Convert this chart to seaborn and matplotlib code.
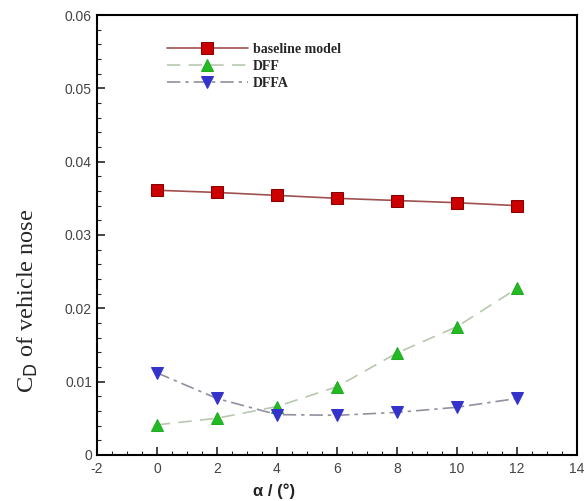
import matplotlib
matplotlib.use("Agg")
import matplotlib.pyplot as plt
import seaborn as sns
import pandas as pd
from matplotlib.ticker import MultipleLocator

alpha = [0, 2, 4, 6, 8, 10, 12]
baseline = [0.0361, 0.0358, 0.0354, 0.0350, 0.0347, 0.0344, 0.0340]
dff = [0.0041, 0.0050, 0.0066, 0.0093, 0.0139, 0.0175, 0.0227]
dffa = [0.0112, 0.0077, 0.0055, 0.0054, 0.0058, 0.0065, 0.0077]
series_names = ["baseline model", "DFF", "DFFA"]

sns.set_style("white")
plt.rcParams["font.family"] = ["Liberation Sans", "DejaVu Sans"]
plt.rcParams["axes.unicode_minus"] = False

fig = plt.figure(figsize=(5.87, 5.01), dpi=100)
ax = fig.add_axes([0.165, 0.092, 0.818, 0.878])

df = pd.DataFrame({"alpha": alpha * 3,
                   "cd": baseline + dff + dffa,
                   "series": [series_names[0]] * 7 + [series_names[1]] * 7 + [series_names[2]] * 7})

styles = {
    "baseline model": dict(color="#a05050", marker="s", mfc="#cc0000", mec="#880000", ls="-", ms=8.5),
    "DFF": dict(color="#b8c8b0", marker="^", mfc="#22bb22", mec="#22aa22", ls=(0, (8, 5)), ms=8.5),
    "DFFA": dict(color="#9090a0", marker="v", mfc="#3333cc", mec="#3333cc", ls=(0, (8, 3, 2, 3)), ms=8.5),
}
for name in series_names:
    st = styles[name]
    sub = df[df["series"] == name]
    sns.lineplot(data=sub, x="alpha", y="cd", ax=ax, color=st["color"], marker=st["marker"],
                 markerfacecolor=st["mfc"], markeredgecolor=st["mec"], markersize=st["ms"],
                 linestyle=st["ls"], linewidth=1.2, label=name, legend=False)

ax.set_xlim(-2, 14)
ax.set_ylim(0, 0.06)
ax.xaxis.set_major_locator(MultipleLocator(2))
ax.xaxis.set_minor_locator(MultipleLocator(0.5))
ax.yaxis.set_minor_locator(MultipleLocator(0.002))
ax.set_yticks([0, 0.01, 0.02, 0.03, 0.04, 0.05, 0.06])
ax.set_yticklabels(["0", "0.01", "0.02", "0.03", "0.04", "0.05", "0.06"])
ax.tick_params(axis="both", which="major", direction="in", length=6, width=1.2,
               labelsize=10, labelcolor="#444444", top=False, right=False, left=True, bottom=True)
ax.tick_params(axis="x", which="major", pad=5)
ax.tick_params(axis="both", which="minor", direction="in", length=3, width=0.8,
               top=False, right=False, left=True, bottom=True)
for sp in ax.spines.values():
    sp.set_linewidth(1.5)
    sp.set_color("black")

ax.set_xlabel("α / (°)", fontsize=12, fontweight="bold", color="#222222")
ax.xaxis.set_label_coords(0.37, -0.065)
ax.set_ylabel(r"C$_\mathrm{D}$ of vehicle nose", fontsize=17.5, family="Liberation Serif")
ax.yaxis.set_label_coords(-0.118, 0.35)

leg = ax.legend(loc="upper left", bbox_to_anchor=(0.12, 0.965), frameon=False, handlelength=5.8,
                prop={"family": "Liberation Serif", "weight": "bold", "size": 10},
                labelspacing=0.3, handletextpad=0.4)

fig.savefig("out.png", dpi=100)
